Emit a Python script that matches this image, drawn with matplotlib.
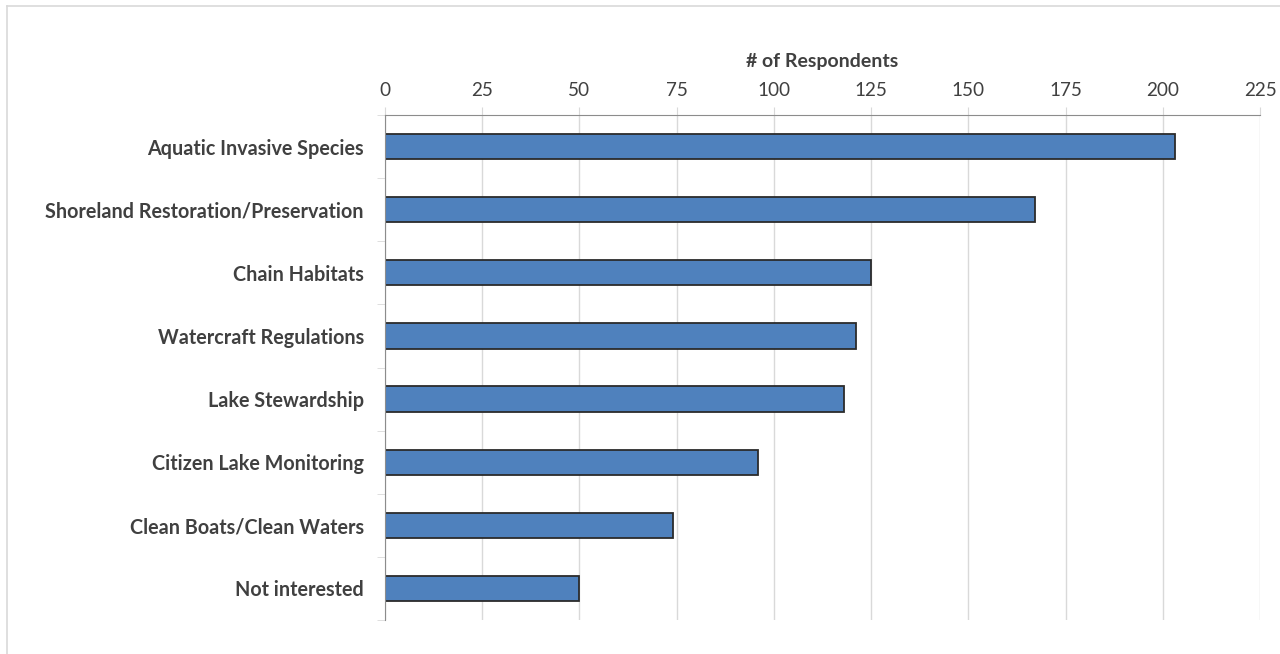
import matplotlib
matplotlib.use("Agg")
import matplotlib.pyplot as plt
from matplotlib.lines import Line2D
import numpy as np

categories = ["Aquatic Invasive Species", "Shoreland Restoration/Preservation",
              "Chain Habitats", "Watercraft Regulations", "Lake Stewardship",
              "Citizen Lake Monitoring", "Clean Boats/Clean Waters", "Not interested"]
values = [203, 167, 125, 121, 118, 96, 74, 50]
x_ticks = [0, 25, 50, 75, 100, 125, 150, 175, 200, 225]
x_label = "# of Respondents"

plt.rcParams['font.family'] = ['Lato', 'DejaVu Sans']
text_col = "#404040"

fig = plt.figure(figsize=(12.8, 6.54), dpi=100)
ax = fig.add_axes([384.7/1280, 1-620/654, (1260.3-384.7)/1280, (620-115)/654])

y = np.arange(len(categories))
ax.barh(y, values, height=0.4, color="#4F81BD", edgecolor="#2B2B2B", linewidth=1.3, zorder=3)
ax.set_ylim(len(categories)-0.5, -0.5)
ax.set_xlim(0, 225)

ax.xaxis.tick_top()
ax.xaxis.set_label_position("top")
ax.set_xticks(x_ticks)
ax.set_xticklabels([str(t) for t in x_ticks], fontsize=13.6, color=text_col)
ax.set_xlabel(x_label, fontsize=14, fontweight="bold", color=text_col, labelpad=11)
ax.tick_params(axis="x", direction="out", length=5.5, color="#D9D9D9", pad=6)

ax.set_yticks(y)
ax.set_yticklabels(categories, fontsize=14.2, fontweight="bold", color=text_col)
ax.tick_params(axis="y", which="major", length=0, pad=15)
ax.set_yticks(np.arange(-0.5, len(categories)), minor=True)
ax.tick_params(axis="y", which="minor", direction="out", length=6, color="#D9D9D9")

ax.grid(axis="x", color="#D9D9D9", linewidth=1, zorder=0)
ax.set_axisbelow(True)
for s in ["right", "bottom"]:
    ax.spines[s].set_visible(False)
ax.spines["top"].set_color("#8C8C8C")
ax.spines["left"].set_color("#8C8C8C")
ax.spines["top"].set_zorder(4)
ax.spines["left"].set_zorder(4)

# chart border (Excel-style)
fig.add_artist(Line2D([7/1280, 1], [1-6/654, 1-6/654], transform=fig.transFigure, color="#D9D9D9", lw=1.2))
fig.add_artist(Line2D([7/1280, 7/1280], [0, 1-6/654], transform=fig.transFigure, color="#D9D9D9", lw=1.2))

fig.savefig("out.png", dpi=100, facecolor="white")
